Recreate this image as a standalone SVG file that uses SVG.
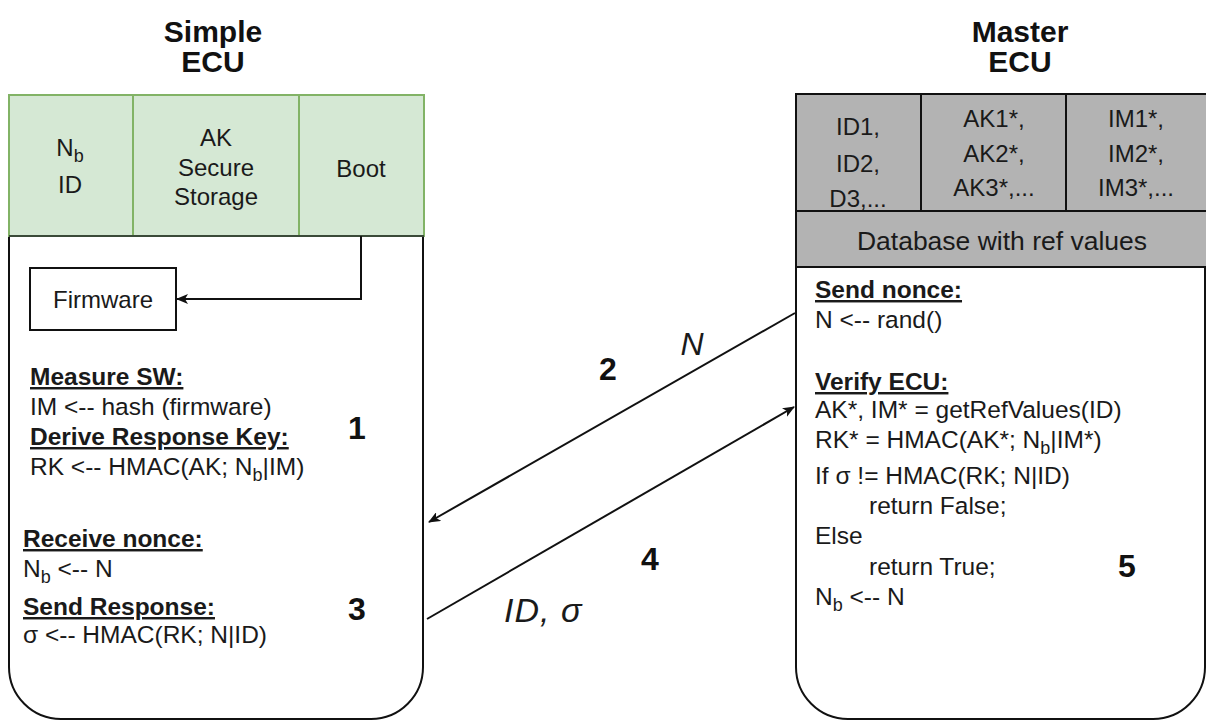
<svg xmlns="http://www.w3.org/2000/svg" width="1206" height="722" viewBox="0 0 1206 722">
<defs>
<style>
text{font-family:"Liberation Sans",Arial,sans-serif;fill:#1a1a1a}
.t{font-size:30px;font-weight:bold;text-anchor:middle;fill:#111}
.b{font-size:24.5px}
.hd{font-size:24px}
.db{font-size:26.5px}
.c{text-anchor:middle}
.h{font-weight:bold;text-decoration:underline}
.n{font-size:32px;font-weight:bold;text-anchor:middle;fill:#111}
.i{font-size:32px;font-style:italic}
.s{font-size:18px}
.line{fill:none;stroke:#111;stroke-width:2}
</style>
<marker id="ah" viewBox="0 0 12 10" refX="11" refY="5" markerWidth="12" markerHeight="10" markerUnits="userSpaceOnUse" orient="auto">
<path d="M0,0 L12,5 L0,10 L3,5 Z" fill="#111"/>
</marker>
</defs>

<g id="titles">
<text class="t" x="213" y="42">Simple</text>
<text class="t" x="213" y="72">ECU</text>
<text class="t" x="1020" y="42">Master</text>
<text class="t" x="1020" y="72">ECU</text>
</g>

<g id="simple-ecu">
<path d="M9,236 V667 A52,52 0 0 0 61,719 H371 A52,52 0 0 0 423,667 V236" fill="#fff" stroke="#111" stroke-width="2"/>
<rect x="9" y="95" width="415" height="141" fill="#d5e8d4" stroke="#82b366" stroke-width="2"/>
<line x1="133" y1="95" x2="133" y2="236" stroke="#82b366" stroke-width="2"/>
<line x1="299" y1="95" x2="299" y2="236" stroke="#82b366" stroke-width="2"/>
<line x1="9" y1="236" x2="424" y2="236" stroke="#3a4a38" stroke-width="2"/>
<text class="hd c" x="70" y="156">N<tspan class="s" dy="6">b</tspan></text>
<text class="hd c" x="70" y="193">ID</text>
<text class="hd c" x="216" y="146">AK</text>
<text class="hd c" x="216" y="176">Secure</text>
<text class="hd c" x="216" y="205">Storage</text>
<text class="hd c" x="361" y="177">Boot</text>
</g>

<g id="firmware">
<rect x="30" y="268" width="146" height="62" fill="#fff" stroke="#111" stroke-width="2"/>
<text class="hd c" x="103" y="308">Firmware</text>
</g>

<g id="simple-text">
<text class="b h" x="30" y="385">Measure SW:</text>
<text class="b" x="30" y="415">IM &lt;-- hash (firmware)</text>
<text class="b h" x="30" y="445">Derive Response Key:</text>
<text class="b" x="30" y="475">RK &lt;-- HMAC(AK; N<tspan class="s" dy="6">b</tspan><tspan dy="-6">|IM)</tspan></text>
<text class="b h" x="23" y="547">Receive nonce:</text>
<text class="b" x="23" y="577">N<tspan class="s" dy="6">b</tspan><tspan dy="-6"> &lt;-- N</tspan></text>
<text class="b h" x="23" y="615">Send Response:</text>
<text class="b" x="23" y="643">σ &lt;-- HMAC(RK; N|ID)</text>
<text class="n" x="357" y="439">1</text>
<text class="n" x="357" y="620">3</text>
</g>

<g id="master-ecu">
<path d="M796,267 V667 A52,52 0 0 0 848,719 H1153 A52,52 0 0 0 1205,667 V267" fill="#fff" stroke="#111" stroke-width="2"/>
<rect x="796" y="94" width="420" height="117" fill="#b3b3b3" stroke="#111" stroke-width="2"/>
<rect x="796" y="211" width="420" height="56" fill="#b3b3b3" stroke="#111" stroke-width="2"/>
<line x1="921" y1="94" x2="921" y2="211" stroke="#111" stroke-width="2"/>
<line x1="1066" y1="94" x2="1066" y2="211" stroke="#111" stroke-width="2"/>
<text class="hd c" x="858" y="135">ID1,</text>
<text class="hd c" x="858" y="172">ID2,</text>
<text class="hd c" x="858" y="207">D3,...</text>
<text class="hd c" x="994" y="127">AK1*,</text>
<text class="hd c" x="994" y="162">AK2*,</text>
<text class="hd c" x="994" y="196">AK3*,...</text>
<text class="hd c" x="1136" y="127">IM1*,</text>
<text class="hd c" x="1136" y="162">IM2*,</text>
<text class="hd c" x="1136" y="196">IM3*,...</text>
<text class="db c" x="1002" y="250">Database with ref values</text>
</g>

<g id="master-text">
<text class="b h" x="815" y="298">Send nonce:</text>
<text class="b" x="815" y="328">N &lt;-- rand()</text>
<text class="b h" x="815" y="390">Verify ECU:</text>
<text class="b" x="815" y="418">AK*, IM* = getRefValues(ID)</text>
<text class="b" x="815" y="448">RK* = HMAC(AK*; N<tspan class="s" dy="6">b</tspan><tspan dy="-6">|IM*)</tspan></text>
<text class="b" x="815" y="484">If σ != HMAC(RK; N|ID)</text>
<text class="b" x="869" y="514">return False;</text>
<text class="b" x="815" y="544">Else</text>
<text class="b" x="869" y="575">return True;</text>
<text class="b" x="815" y="605">N<tspan class="s" dy="6">b</tspan><tspan dy="-6"> &lt;-- N</tspan></text>
<text class="n" x="1127" y="577">5</text>
</g>

<g id="connectors">
<path class="line" d="M361,236 V299 H177" marker-end="url(#ah)"/>
<path class="line" d="M795,313 L429,522" marker-end="url(#ah)"/>
<path class="line" d="M427,619 L794,407" marker-end="url(#ah)"/>
<text class="i" x="692" y="355" text-anchor="middle">N</text>
<text class="n" x="608" y="380">2</text>
<text class="n" x="650" y="570">4</text>
<text class="i" x="504" y="622" style="font-size:34px;letter-spacing:1px">ID, σ</text>
</g>
</svg>
